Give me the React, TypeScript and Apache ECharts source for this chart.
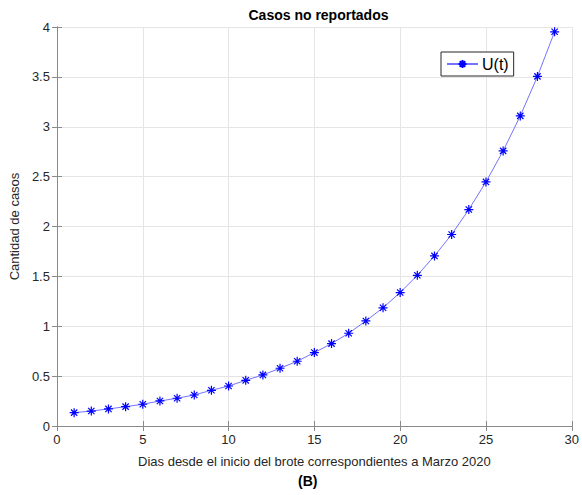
import React, { useEffect, useRef } from "react";
import * as echarts from "echarts";

const days = [1, 2, 3, 4, 5, 6, 7, 8, 9, 10, 11, 12, 13, 14, 15, 16, 17, 18, 19, 20, 21, 22, 23, 24, 25, 26, 27, 28, 29];
const uValues = [0.134, 0.15, 0.171, 0.194, 0.218, 0.251, 0.278, 0.311, 0.358, 0.401, 0.458, 0.512, 0.579, 0.649, 0.736, 0.826, 0.93, 1.053, 1.185, 1.338, 1.511, 1.705, 1.92, 2.17, 2.447, 2.758, 3.109, 3.505, 3.952];
const xTicks = [0, 5, 10, 15, 20, 25, 30];
const yTicks = [0, 0.5, 1, 1.5, 2, 2.5, 3, 3.5, 4];

const FONT = "'Liberation Sans', Arial, Helvetica, sans-serif";
const TXT = "#262626";
const AXIS = "#8a8a8a";
const STAR = "path://M5,0L5,10M0,5L10,5M1.5,1.5L8.5,8.5M8.5,1.5L1.5,8.5";

export default function App() {
  const ref = useRef<HTMLDivElement>(null);
  useEffect(() => {
    if (!ref.current) return;
    const chart = echarts.init(ref.current, undefined, { renderer: "svg" });
    const tickAxis = {
      axisLine: { show: true, lineStyle: { color: AXIS, width: 1 } },
      axisTick: { show: true, inside: true, length: 5, lineStyle: { color: AXIS } },
    };
    chart.setOption({
      animation: false,
      backgroundColor: "#fff",
      title: {
        text: "Casos no reportados",
        left: 313.5,
        textAlign: "center",
        top: 3,
        textStyle: { fontFamily: FONT, fontSize: 14, fontWeight: "bold", color: "#000" },
      },
      graphic: [
        {
          type: "text",
          left: 298,
          top: 474,
          style: { text: "(B)", fontFamily: FONT, fontSize: 14, fontWeight: "bold", fill: "#000" },
        },
      ],
      legend: {
        left: 441,
        top: 52,
        padding: [4, 5, 4, 5],
        itemWidth: 31,
        itemHeight: 10,
        itemGap: 4,
        borderColor: TXT,
        borderWidth: 1,
        borderRadius: 0,
        backgroundColor: "#fff",
        textStyle: { fontFamily: FONT, fontSize: 16, color: "#000", padding: [0, 0, 0, -1] },
        data: ["U(t)"],
      },
      grid: { left: 54, right: 8, top: 27, bottom: 69, show: false },
      xAxis: [
        {
          type: "value",
          min: 0,
          max: 30,
          interval: 5,
          ...tickAxis,
          splitLine: { show: true, lineStyle: { color: "#e5e5e5", width: 1 } },
          axisLabel: { fontFamily: FONT, fontSize: 13, color: TXT, margin: 7, customValues: xTicks },
          name: "Dias desde el inicio del brote correspondientes a Marzo 2020",
          nameLocation: "middle",
          nameGap: 29,
          nameTextStyle: { fontFamily: FONT, fontSize: 13, color: TXT },
        },
        {
          type: "value",
          position: "top",
          min: 0,
          max: 30,
          interval: 5,
          ...tickAxis,
          splitLine: { show: false },
          axisLabel: { show: false },
        },
      ],
      yAxis: [
        {
          type: "value",
          min: 0,
          max: 4,
          interval: 0.5,
          ...tickAxis,
          splitLine: { show: true, lineStyle: { color: "#e5e5e5", width: 1 } },
          axisLabel: { fontFamily: FONT, fontSize: 13, color: TXT, margin: 7, customValues: yTicks },
          name: "Cantidad de casos",
          nameLocation: "middle",
          nameGap: 28,
          nameTextStyle: { fontFamily: FONT, fontSize: 13, color: TXT },
        },
        {
          type: "value",
          position: "right",
          min: 0,
          max: 4,
          interval: 0.5,
          ...tickAxis,
          splitLine: { show: false },
          axisLabel: { show: false },
        },
      ],
      series: [
        {
          name: "U(t)",
          type: "line",
          xAxisIndex: 0,
          yAxisIndex: 0,
          data: days.map((d, i) => [d, uValues[i]]),
          symbol: STAR,
          symbolSize: 9,
          showAllSymbol: true,
          lineStyle: { color: "#7373ff", width: 1 },
          itemStyle: { color: "#0000ff", borderColor: "#0000ff", borderWidth: 1.2 },
        },
      ],
    });
    return () => chart.dispose();
  }, []);
  return <div ref={ref} style={{ width: 582, height: 495, position: "absolute", left: 0, top: 0 }} />;
}
